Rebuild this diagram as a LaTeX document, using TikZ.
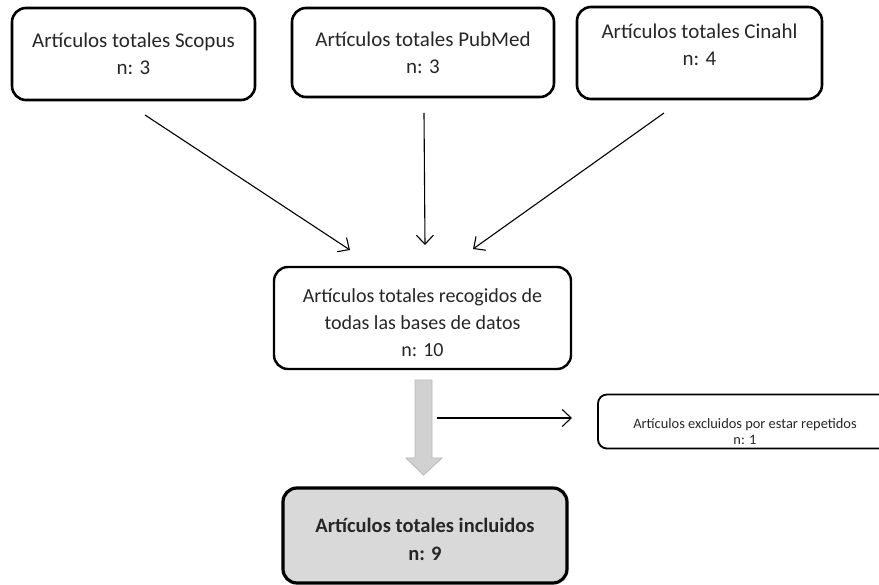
\documentclass[tikz,border=0pt]{standalone}
\usepackage{fontspec}
\setmainfont{Carlito}
\usetikzlibrary{arrows.meta}
\tikzset{caja/.style={draw,rounded corners=14pt,align=center,inner sep=0pt,text=black!85,font=\fontsize{21}{27}\selectfont},
flecha/.style={->,>={Straight Barb[length=9pt,width=17pt]},line width=1.1pt}}

\begin{document}
\begin{tikzpicture}[x=1pt,y=-1pt]
\useasboundingbox (0,0) rectangle (879,585);
\clip (0,0) rectangle (879,585);
\node[caja,line width=2.6pt,minimum width=243pt,minimum height=92pt] (scopus)at(133.5,54){Artículos totales Scopus\\n: 3};
\node[caja,line width=2.6pt,minimum width=262pt,minimum height=89pt] (pubmed)at(423,52.5){Artículos totales PubMed\\n: 3};
\node[caja,line width=2.6pt,minimum width=245pt,minimum height=92pt,text height=30pt,text depth=5pt] (cinahl)at(699.5,53){Artículos totales Cinahl\\n: 4};
\node[caja,line width=2.4pt,minimum width=297pt,minimum height=102pt,text height=83pt,text depth=5pt,font=\fontsize{20}{27}\selectfont] (total)at(422.5,318){Artículos totales recogidos de\\todas las bases de datos\\n: 10};
\node[caja,line width=1.8pt,rounded corners=9pt,minimum width=294pt,minimum height=54pt,text height=50pt,text depth=4pt,font=\fontsize{14.4}{15.5}\selectfont] (excl)at(745,421.5){Artículos excluidos por estar repetidos\\n: 1};
\node[caja,line width=3.2pt,fill=black!15,minimum width=284pt,minimum height=95pt,text height=55pt,text depth=4.5pt,font=\fontsize{20.5}{28}\selectfont\bfseries] (final)at(425,535.5){Artículos totales incluidos\\n: 9};
\coordinate (s1)at(145,115);
\coordinate (s2)at(350,250);
\coordinate (p1)at(424,113);
\coordinate (p2)at(425,245);
\coordinate (c1)at(664,113);
\coordinate (c2)at(473,249);
\coordinate (e1)at(437,418);
\coordinate (e2)at(572,418);
\draw[flecha] (s1) -- (s2);
\draw[flecha] (p1) -- (p2);
\draw[flecha] (c1) -- (c2);
\draw[flecha] (e1) -- (e2);
\draw[fill=black!18,draw=black!28,line width=0.8pt] (415,380)--(432,380)--(432,458)--(442,458)--(423.5,475)--(406,458)--(415,458)--cycle;
\end{tikzpicture}
\end{document}
